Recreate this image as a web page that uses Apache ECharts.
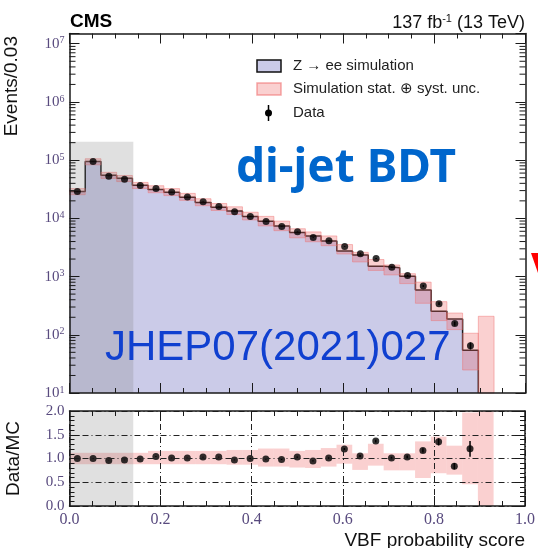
<!DOCTYPE html>
<html>
<head>
<meta charset="utf-8">
<script src="https://cdn.jsdelivr.net/npm/echarts@6/dist/echarts.min.js"></script>
<style>
  html, body { margin: 0; padding: 0; background: #fff; }
  #chart { width: 538px; height: 548px; }
</style>
</head>
<body>
<div id="chart"></div>
<script>
// Binning: 29 equal bins on the VBF score range [0, 1]
const nBins = 29;
const binWidth = 1 / nBins;

// Observed events per bin (bins 0..25)
const dataCounts = [29000, 94500, 53000, 47200, 36600, 32600, 28300, 23400, 19300, 16000,
                    13000, 10800, 8850, 7260, 5890, 4710, 4130, 3300, 2470, 2050,
                    1440, 1040, 690, 343, 156, 65];
// Statistical error on the observed counts
const dataErr = [170, 310, 230, 220, 190, 180, 170, 150, 140, 130,
                 115, 105, 95, 85, 77, 69, 64, 57, 50, 45,
                 38, 32, 26, 19, 12.5, 9];
// Z -> ee simulation per bin (bins 0..25)
const simCounts = [29000, 94500, 55200, 48700, 37000, 31350, 28000, 23170, 18740, 15530,
                   13400, 10800, 8940, 7410, 5720, 4960, 4090, 2750, 2350, 1500,
                   1425, 1010, 590, 254, 186, 54];
// Simulation stat. (+) syst. band, relative to the simulation (bins 0..25)
const uncLow  = [0.88, 0.88, 0.88, 0.88, 0.88, 0.88, 0.88, 0.88, 0.88, 0.88,
                 0.87, 0.87, 0.83, 0.83, 0.81, 0.80, 0.83, 0.89, 0.76, 0.85,
                 0.75, 0.75, 0.59, 0.69, 0.66, 0.46];
const uncHigh = [1.12, 1.12, 1.12, 1.12, 1.12, 1.16, 1.16, 1.16, 1.16, 1.16,
                 1.18, 1.18, 1.21, 1.21, 1.16, 1.18, 1.22, 1.29, 1.11, 1.31,
                 1.11, 1.11, 1.36, 1.46, 1.27, 1.97];
// Band on the first empty simulation bin (bin 26), absolute events
const emptyBinIndex = 26;
const emptyBinUnc = 208;

// Shaded score region
const shadedRange = [0, 0.14];
const shadedTop = 2.08e5;

// Axis settings
const xTickLabels = ['0.0', '0.2', '0.4', '0.6', '0.8', '1.0'];
const ratioTickLabels = ['0.0', '0.5', '1.0', '1.5', '2.0'];
const yMin = 10, yMax = 1.5e7;
const ratioMin = 0, ratioMax = 2;

// Colours
const simFill = '#cbcbe8';
const bandFill = 'rgba(240,100,100,0.30)';
const bandEdge = 'rgba(240,110,110,0.45)';
const shadeFill = 'rgba(125,125,125,0.24)';
const frameColor = '#1a1a1a';
const labelColor = '#584a7e';
const sansFont = "'Liberation Sans', Arial, Helvetica, sans-serif";
const serifFont = "'Liberation Serif', 'Times New Roman', serif";

const edge = i => i * binWidth;
const centre = i => (i + 0.5) * binWidth;

// ---- derived series ----
const simStep = simCounts.map((v, i) => [edge(i), v]);
simStep.push([edge(simCounts.length), yMin]);

const mainBand = simCounts.map((v, i) => [edge(i), edge(i + 1), v * uncLow[i], v * uncHigh[i]]);
mainBand.push([edge(emptyBinIndex), edge(emptyBinIndex + 1), yMin, emptyBinUnc]);

const ratioBand = simCounts.map((v, i) => [edge(i), edge(i + 1), uncLow[i], uncHigh[i]]);
ratioBand.push([edge(emptyBinIndex), edge(emptyBinIndex + 1), ratioMin, ratioMax]);

const dataPoints = dataCounts.map((v, i) => [centre(i), v]);
const dataBars = dataCounts.map((v, i) => [centre(i), v - dataErr[i], v + dataErr[i]]);
const ratioPoints = dataCounts.map((v, i) => [centre(i), v / simCounts[i]]);
const ratioBars = dataCounts.map((v, i) => [centre(i), (v - dataErr[i]) / simCounts[i], (v + dataErr[i]) / simCounts[i]]);

const minorLogTicks = [];
for (let k = 1; k <= 7; k++) {
  for (let m = 2; m <= 9; m++) {
    const v = m * Math.pow(10, k);
    if (v < yMax) minorLogTicks.push([0, v]);
  }
}

function rectItem(fill, stroke) {
  return function (params, api) {
    const p0 = api.coord([api.value(0), api.value(3)]);
    const p1 = api.coord([api.value(1), api.value(2)]);
    return {
      type: 'rect',
      shape: { x: p0[0], y: p0[1], width: p1[0] - p0[0], height: p1[1] - p0[1] },
      style: { fill: fill, stroke: stroke, lineWidth: stroke ? 1 : 0 }
    };
  };
}
function errBarItem(params, api) {
  const a = api.coord([api.value(0), api.value(1)]);
  const b = api.coord([api.value(0), api.value(2)]);
  return { type: 'line', shape: { x1: a[0], y1: a[1], x2: b[0], y2: b[1] },
           style: { stroke: '#000', lineWidth: 1.5 } };
}
function minorTickItem(params, api) {
  const l = api.coord([0, api.value(1)]);
  const r = api.coord([1, api.value(1)]);
  return { type: 'group', children: [
    { type: 'line', shape: { x1: l[0], y1: l[1], x2: l[0] + 6, y2: l[1] }, style: { stroke: frameColor, lineWidth: 1 } },
    { type: 'line', shape: { x1: r[0] - 6, y1: r[1], x2: r[0], y2: r[1] }, style: { stroke: frameColor, lineWidth: 1 } }
  ] };
}

const axisLine = { show: true, onZero: false, lineStyle: { color: frameColor, width: 1.5 } };
const gridDash = { color: '#222', width: 1, type: [6, 3, 1, 3] };

function xAxisDef(grid, pos, labels, split) {
  return {
    type: 'value', gridIndex: grid, position: pos, min: 0, max: 1, interval: 0.2, z: 10,
    axisLine: axisLine,
    axisTick: { show: true, inside: true, length: 10, lineStyle: { color: frameColor, width: 1 } },
    minorTick: { show: true, splitNumber: 4, length: 5, lineStyle: { color: frameColor, width: 1 } },
    axisLabel: labels ? {
      show: true, margin: 6, fontFamily: serifFont, fontSize: 16, color: labelColor,
      formatter: v => xTickLabels[Math.round(v / 0.2)] || ''
    } : { show: false },
    splitLine: split ? { show: true, lineStyle: gridDash } : { show: false }
  };
}
function logAxisDef(pos, labels) {
  return {
    type: 'log', gridIndex: 0, position: pos, min: yMin, max: yMax, logBase: 10, splitNumber: 6, z: 10,
    axisLine: axisLine,
    axisTick: { show: true, inside: true, length: 10, lineStyle: { color: frameColor, width: 1 } },
    minorTick: { show: false },
    splitLine: { show: false },
    axisLabel: labels ? {
      show: true, margin: 5,
      formatter: v => {
        const k = Math.log10(v), r = Math.round(k);
        return Math.abs(k - r) > 1e-6 ? '' : '{b|10}{e|' + r + '}';
      },
      rich: {
        b: { fontFamily: serifFont, fontSize: 15, color: labelColor, lineHeight: 16 },
        e: { fontFamily: serifFont, fontSize: 10, color: labelColor, lineHeight: 10, verticalAlign: 'top' }
      }
    } : { show: false }
  };
}
function ratioAxisDef(pos, labels) {
  return {
    type: 'value', gridIndex: 1, position: pos, min: ratioMin, max: ratioMax, interval: 0.5, z: 10,
    axisLine: axisLine,
    axisTick: { show: true, inside: true, length: 10, lineStyle: { color: frameColor, width: 1 } },
    minorTick: { show: true, splitNumber: 5, length: 5, lineStyle: { color: frameColor, width: 1 } },
    axisLabel: labels ? {
      show: true, margin: 5, fontFamily: serifFont, fontSize: 15, color: labelColor,
      formatter: v => ratioTickLabels[Math.round(v / 0.5)] || ''
    } : { show: false },
    splitLine: labels ? { show: true, lineStyle: gridDash } : { show: false }
  };
}

const chart = echarts.init(document.getElementById('chart'), null, { renderer: 'canvas' });
chart.setOption({
  animation: false,
  backgroundColor: '#fff',
  grid: [
    { left: 69.5, right: 12.5, top: 33.5, bottom: 155 },
    { left: 69.5, right: 12.5, top: 411, bottom: 42 }
  ],
  xAxis: [
    xAxisDef(0, 'bottom', false, false),
    xAxisDef(0, 'top', false, false),
    xAxisDef(1, 'bottom', true, true),
    xAxisDef(1, 'top', false, false)
  ],
  yAxis: [
    logAxisDef('left', true),
    logAxisDef('right', false),
    ratioAxisDef('left', true),
    ratioAxisDef('right', false)
  ],
  series: [
    // main panel
    { type: 'line', xAxisIndex: 0, yAxisIndex: 0, data: simStep, step: 'end', showSymbol: false, z: 1,
      lineStyle: { color: frameColor, width: 1.5 },
      areaStyle: { color: simFill, opacity: 1, origin: 'start' } },
    { type: 'custom', xAxisIndex: 0, yAxisIndex: 0, data: mainBand, z: 2,
      renderItem: rectItem(bandFill, bandEdge) },
    { type: 'custom', xAxisIndex: 0, yAxisIndex: 0, z: 3,
      data: [[shadedRange[0], shadedRange[1], yMin, shadedTop]],
      renderItem: rectItem(shadeFill, null) },
    { type: 'custom', xAxisIndex: 0, yAxisIndex: 0, data: dataBars, z: 4, renderItem: errBarItem },
    { type: 'scatter', xAxisIndex: 0, yAxisIndex: 0, data: dataPoints, z: 5,
      symbol: 'circle', symbolSize: 7, itemStyle: { color: '#000' } },
    { type: 'custom', xAxisIndex: 0, yAxisIndex: 0, data: minorLogTicks, z: 11, renderItem: minorTickItem },
    // ratio panel
    { type: 'custom', xAxisIndex: 2, yAxisIndex: 2, data: ratioBand, z: 2,
      renderItem: rectItem(bandFill, null) },
    { type: 'custom', xAxisIndex: 2, yAxisIndex: 2, z: 3,
      data: [[shadedRange[0], shadedRange[1], ratioMin, ratioMax]],
      renderItem: rectItem(shadeFill, null) },
    { type: 'custom', xAxisIndex: 2, yAxisIndex: 2, data: ratioBars, z: 4, renderItem: errBarItem },
    { type: 'scatter', xAxisIndex: 2, yAxisIndex: 2, data: ratioPoints, z: 5,
      symbol: 'circle', symbolSize: 7, itemStyle: { color: '#000' } }
  ],
  graphic: [
    { type: 'text', left: 70, top: 12, style: { text: 'CMS', font: 'bold 19px ' + sansFont, fill: '#000' } },
    { type: 'text', x: 525, y: 23, style: {
        text: '{a|137 fb}{s|-1}{a| (13 TeV)}', align: 'right', verticalAlign: 'middle',
        rich: { a: { font: '18px ' + sansFont, fill: '#111', lineHeight: 20 },
                s: { font: '11px ' + sansFont, fill: '#111', lineHeight: 12, verticalAlign: 'top' } } } },
    { type: 'text', x: 12, y: 36, rotation: Math.PI / 2, style: {
        text: 'Events/0.03', font: '19px ' + sansFont, fill: '#111', align: 'right', verticalAlign: 'middle' } },
    { type: 'text', x: 14, y: 458.5, rotation: Math.PI / 2, style: {
        text: 'Data/MC', font: '19px ' + sansFont, fill: '#111', align: 'center', verticalAlign: 'middle' } },
    { type: 'text', x: 525, y: 541, style: {
        text: 'VBF probability score', font: '19px ' + sansFont, fill: '#111', align: 'right', verticalAlign: 'middle' } },
    // legend
    { type: 'rect', shape: { x: 257, y: 60, width: 24, height: 12 }, style: { fill: simFill, stroke: '#111', lineWidth: 1.5 } },
    { type: 'rect', shape: { x: 257, y: 83, width: 24, height: 12 }, style: { fill: 'rgba(240,100,100,0.30)', stroke: 'rgba(240,110,110,0.6)', lineWidth: 1.5 } },
    { type: 'line', shape: { x1: 268.5, y1: 105, x2: 268.5, y2: 121 }, style: { stroke: '#000', lineWidth: 1.5 } },
    { type: 'circle', shape: { cx: 268.5, cy: 113, r: 3.5 }, style: { fill: '#000' } },
    { type: 'text', x: 293, y: 66, style: {
        text: 'Z \u2192 ee simulation', font: '15px ' + sansFont, fill: '#222', verticalAlign: 'middle' } },
    { type: 'text', x: 293, y: 89, style: {
        text: 'Simulation stat. \u2295 syst. unc.', font: '15px ' + sansFont, fill: '#222', verticalAlign: 'middle' } },
    { type: 'text', x: 293, y: 113, style: {
        text: 'Data', font: '15px ' + sansFont, fill: '#222', verticalAlign: 'middle' } },
    // annotations
    { type: 'text', x: 236, y: 169, z: 20, style: {
        text: 'di-jet BDT', font: "bold 46px 'Noto Sans', sans-serif", fill: '#0066cc', verticalAlign: 'middle' } },
    { type: 'text', x: 105, y: 348, z: 20, style: {
        text: 'JHEP07(2021)027', font: '42px ' + sansFont, fill: '#1040d0', verticalAlign: 'middle' } },
    { type: 'polygon', shape: { points: [[531, 253], [538, 253], [538, 273]] }, style: { fill: '#ff0000' } }
  ]
});
</script>
</body>
</html>
